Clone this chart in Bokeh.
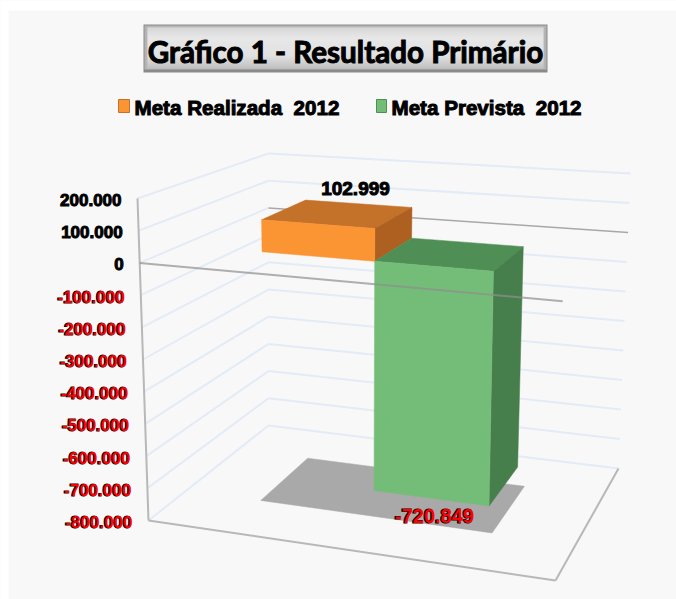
from bokeh.core.properties import value as fixed
from bokeh.embed import file_html
from bokeh.models import ColumnDataSource
from bokeh.plotting import figure
from bokeh.resources import INLINE

W, H = 676, 599

# Chart content
title_text = "Gráfico 1 - Resultado Primário"
series_names = ["Meta Realizada\u00a0 2012", "Meta Prevista\u00a0 2012"]
series_values = [102999, -720849]
value_labels = ["102.999", "-720.849"]
tick_values = [200000, 100000, 0, -100000, -200000, -300000, -400000,
               -500000, -600000, -700000, -800000]
tick_labels = ["200.000", "100.000", "0", "-100.000", "-200.000", "-300.000",
               "-400.000", "-500.000", "-600.000", "-700.000", "-800.000"]

V_TOP, V_BOTTOM = 200000, -800000

# Projected box corners in page pixels: (top level, bottom level)
FL = ((137, 198), (148, 520))
FR = ((564, 231), (555, 580))
BL = ((268, 153), (268, 425))
BR = ((630, 173), (618, 468))

# Bar footprint on the floor, as fractions of the box width and depth
BAR_EDGES = [0.2, 0.48, 0.775]
DEPTH_FRONT, DEPTH_BACK = 0.325, 0.70
# The floor shadow reaches slightly beyond the footprint
SHADOW_U = (0.19, 0.785)
SHADOW_D = (0.32, 0.75)

ORANGE = dict(front="#fb9432", top="#c4722a", side="#ad6020")
GREEN = dict(front="#74bd78", top="#4f8f55", side="#477f4c")


def at_level(corner, v):
    t = (V_TOP - v) / (V_TOP - V_BOTTOM)
    (x0, y0), (x1, y1) = corner
    return x0 + (x1 - x0) * t, y0 + (y1 - y0) * t


def project(u, d, v):
    """Map box width u, box depth d and a value to page coordinates."""
    fl, fr, bl, br = (at_level(c, v) for c in (FL, FR, BL, BR))
    x = (1 - d) * ((1 - u) * fl[0] + u * fr[0]) + d * ((1 - u) * bl[0] + u * br[0])
    y = (1 - d) * ((1 - u) * fl[1] + u * fr[1]) + d * ((1 - u) * bl[1] + u * br[1])
    return x, y


p = figure(width=W, height=H, x_range=(0, W), y_range=(H, 0),
           output_backend="svg", toolbar_location=None, min_border=0,
           background_fill_color="#f8f8f8", border_fill_color="#f8f8f8",
           outline_line_color=None)
p.axis.visible = False
p.grid.visible = False


def seg(a, b, **kw):
    p.line([a[0], b[0]], [a[1], b[1]], **kw)


def poly(points, color):
    p.patch([q[0] for q in points], [q[1] for q in points],
            fill_color=color, line_color=color, line_width=0.5)


# White margin along the left and top of the page
p.quad(left=[0, 0], right=[W, 8], top=[0, 0], bottom=[10, H],
       fill_color="#ffffff", line_color=None)

# Wall gridlines
GRID = "#e3ebf6"
for v in tick_values:
    seg(project(0, 0, v), project(0, 1, v), line_color=GRID, line_width=2)
    back_color = "#a8a8a8" if v == 0 else GRID
    seg(project(0, 1, v), project(1, 1, v), line_color=back_color, line_width=2 if v else 1.5)

# Floor outline and vertical axis
AXIS = "#b8b8b8"
seg(project(0, 0, V_TOP), project(0, 0, V_BOTTOM), line_color=AXIS, line_width=2)
seg(project(0, 0, V_BOTTOM), project(1, 0, V_BOTTOM), line_color=AXIS, line_width=2)
seg(project(1, 0, V_BOTTOM), project(1, 1, V_BOTTOM), line_color=AXIS, line_width=2)

# Shadow of both bars on the floor
poly([project(SHADOW_U[0], SHADOW_D[0], V_BOTTOM), project(SHADOW_U[1], SHADOW_D[0], V_BOTTOM),
      project(SHADOW_U[1], SHADOW_D[1], V_BOTTOM), project(SHADOW_U[0], SHADOW_D[1], V_BOTTOM)],
     "#a9a9a9")


def draw_bar(u0, u1, val, colors):
    hi, lo = max(val, 0), min(val, 0)
    poly([project(u0, DEPTH_FRONT, hi), project(u1, DEPTH_FRONT, hi),
          project(u1, DEPTH_BACK, hi), project(u0, DEPTH_BACK, hi)], colors["top"])
    poly([project(u1, DEPTH_FRONT, hi), project(u1, DEPTH_BACK, hi),
          project(u1, DEPTH_BACK, lo), project(u1, DEPTH_FRONT, lo)], colors["side"])
    poly([project(u0, DEPTH_FRONT, hi), project(u1, DEPTH_FRONT, hi),
          project(u1, DEPTH_FRONT, lo), project(u0, DEPTH_FRONT, lo)], colors["front"])


draw_bar(BAR_EDGES[0], BAR_EDGES[1], series_values[0], ORANGE)
draw_bar(BAR_EDGES[1], BAR_EDGES[2], series_values[1], GREEN)

# Zero line at the front of the box, over the bars
seg(project(0, 0, 0), project(1, 0, 0), line_color="#8f8f8f", line_width=2, line_alpha=0.7)


def lerp_hex(a, b, t):
    return "#" + "".join(f"{round(a + (b - a) * t):02x}" for _ in range(3))


# Title plate: dark bevel with a vertical sheen inside
PL, PR, PT, PB = 143, 547, 24, 72
p.quad(left=[PL], right=[PR], top=[PT], bottom=[PB], fill_color="#8a8a8a", line_color=None)
p.quad(left=[PL + 1], right=[PR - 1], top=[PT + 1], bottom=[PB - 3], fill_color="#b4b4b4", line_color=None)
sheen = [(0.0, 0xe2), (0.25, 0xf8), (0.7, 0xf0), (1.0, 0xc6)]
rows = PB - PT - 7
for i in range(rows):
    t = i / (rows - 1)
    for (t0, c0), (t1, c1) in zip(sheen, sheen[1:]):
        if t0 <= t <= t1:
            shade = lerp_hex(c0, c1, (t - t0) / (t1 - t0))
            break
    p.quad(left=[PL + 4], right=[PR - 4], top=[PT + 3 + i], bottom=[PT + 4 + i],
           fill_color=shade, line_color=None)


def label(x, y, text, size, color="#000000", align="center", font="Liberation Sans"):
    """Heavy text: a stroked black layer, with a coloured fill on top when needed."""
    common = dict(x="x", y="y", text="t", text_font=fixed(font),
                  text_font_size=f"{size}px", text_font_style="bold",
                  text_align=align, text_baseline="middle")
    shift = 0.7 if color != "#000000" else 0
    under = ColumnDataSource(dict(x=[x - shift], y=[y], t=[text]))
    p.text(source=under, text_color="#000000", text_outline_color="#000000", **common)
    if color != "#000000":
        over = ColumnDataSource(dict(x=[x], y=[y], t=[text]))
        p.text(source=over, text_color=color, **common)


label(345, 51, title_text, 29.6, font="Lato")

# Legend
p.quad(left=[118], right=[129], top=[99], bottom=[112], fill_color=ORANGE["front"],
       line_color=ORANGE["top"])
p.quad(left=[376], right=[386], top=[99], bottom=[112], fill_color=GREEN["front"],
       line_color=GREEN["top"])
label(134, 107, series_names[0], 20.6, align="left")
label(391, 107, series_names[1], 20.6, align="left")

# Value axis labels
for v, t in zip(tick_values, tick_labels):
    x, y = project(0, 0, v)
    label(x - 16, y + 1.5, t, 17, color="#ff0000" if v < 0 else "#000000", align="right")

# Data labels
label(355, 188, value_labels[0], 19)
label(434, 515, value_labels[1], 20, color="#ff0000")

open("out.html", "w").write(file_html(p, INLINE))
